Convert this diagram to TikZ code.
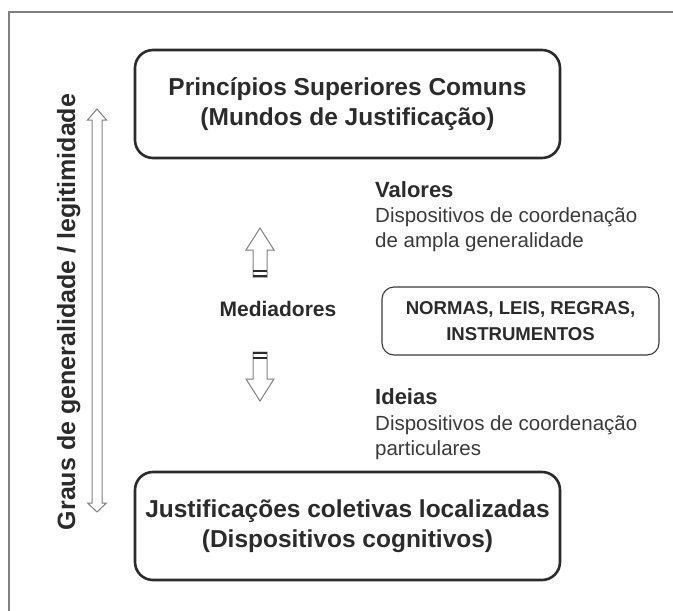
\documentclass[tikz,border=0pt]{standalone}
\usepackage{fontspec}
\setmainfont{Liberation Sans}
\definecolor{tinta}{HTML}{2B2B2B}
\definecolor{texto}{HTML}{3A3A3A}
\definecolor{moldura}{HTML}{808080}
\begin{document}
\begin{tikzpicture}[x=1pt,y=-1pt,
    bigbox/.style={draw=tinta, line width=2.6pt, rounded corners=18pt,
      minimum width=425pt, minimum height=108pt, align=center, text=tinta,
      font=\fontsize{24.5}{30}\selectfont\bfseries},
    smallbox/.style={draw=texto, line width=1.1pt, rounded corners=12pt,
      minimum width=277pt, minimum height=68pt, align=center, text=tinta,
      font=\fontsize{18.6}{26}\selectfont\bfseries},
    head/.style={anchor=base west, inner sep=0pt, text=tinta,
      font=\fontsize{22}{26}\selectfont\bfseries},
    desc/.style={anchor=base west, inner sep=0pt, text=texto,
      font=\fontsize{20.5}{25}\selectfont},
    blockarrow/.style={draw=moldura, line width=1pt, fill=white, line join=miter},
    bar/.style={draw=tinta, line width=1.8pt}]
    \useasboundingbox (0,0) rectangle (673,611);
    % frame
    \draw[moldura, line width=1.5pt] (9,611) -- (9,12) -- (673,12);

    \node[bigbox] (topo) at (347.5,104) {Princípios Superiores Comuns\\(Mundos de Justificação)};
    \node[bigbox] (base) at (347.5,526) {Justificações coletivas localizadas\\(Dispositivos cognitivos)};

    % vertical scale
    \node[rotate=90, anchor=base, inner sep=0pt, text=tinta,
      font=\fontsize{25}{30}\selectfont\bfseries] (graus) at (75,312) {Graus de generalidade / legitimidade};
    \coordinate (gtop) at (97,109);
    \coordinate (gbot) at (97,512);
    \draw[blockarrow] (gtop) -- (106.5,120) -- (102,120) -- (102,503) -- (106.5,503)
      -- (gbot) -- (87.5,503) -- (92,503) -- (92,120) -- (87.5,120) -- cycle;

    % mediadores
    \node[anchor=base, inner sep=0pt, text=tinta,
      font=\fontsize{21}{25}\selectfont\bfseries] (medi) at (278,316) {Mediadores};
    \coordinate (upTip) at (260,228);
    \draw[blockarrow] (upTip) -- (274,250) -- (267,250) -- (267,277) -- (253,277)
      -- (253,250) -- (246,250) -- cycle;
    \draw[bar] (253,271) -- (267,271);
    \draw[bar] (253,276) -- (267,276);
    \coordinate (downTip) at (260,401);
    \draw[blockarrow] (downTip) -- (274,379) -- (267,379) -- (267,352) -- (253,352)
      -- (253,379) -- (246,379) -- cycle;
    \draw[bar] (253,353) -- (267,353);
    \draw[bar] (253,358) -- (267,358);

    \node[smallbox] (normas) at (520.5,321) {NORMAS, LEIS, REGRAS,\\INSTRUMENTOS};

    % valores / ideias
    \node[head] (valores) at (375,197) {Valores};
    \node[desc] (valdesc) at (375,222) {Dispositivos de coordenação};
    \node[desc] (valdesc2) at (375,247) {de ampla generalidade};
    \node[head] (ideias) at (375,404) {Ideias};
    \node[desc] (idedesc) at (375,430) {Dispositivos de coordenação};
    \node[desc] (idedesc2) at (375,455) {particulares};
\end{tikzpicture}
\end{document}
